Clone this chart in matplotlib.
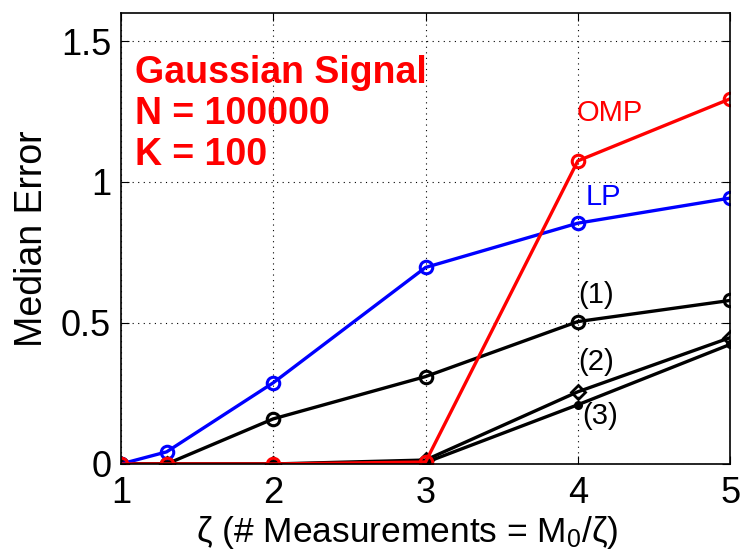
import matplotlib
matplotlib.use("Agg")
import matplotlib.pyplot as plt

plt.rcParams["font.family"] = ["Liberation Sans", "DejaVu Sans"]
plt.rcParams["mathtext.fontset"] = "custom"
plt.rcParams["mathtext.rm"] = "Liberation Sans"
plt.rcParams["mathtext.it"] = "Liberation Sans"

zeta = [1, 1.3, 2, 3, 4, 5]
lp = [0.0, 0.043, 0.288, 0.697, 0.854, 0.943]
omp = [0.0, 0.0, 0.0, 0.007, 1.075, 1.295]
err1 = [0.0, 0.0, 0.16, 0.31, 0.505, 0.58]
err2 = [0.0, 0.0, 0.0, 0.014, 0.256, 0.448]
err3 = [0.0, 0.0, 0.0, 0.005, 0.21, 0.424]

fig = plt.figure(figsize=(7.42, 5.57), dpi=100)
ax = fig.add_axes([0.163, 0.167, 0.821, 0.810])

lw = 2.4
ax.plot(zeta, err3, color="black", lw=lw, marker="o", ms=5, mfc="black", mew=1.5)
ax.plot(zeta, err2, color="black", lw=lw, marker="D", ms=7, mfc="none", mew=2)
ax.plot(zeta, err1, color="black", lw=lw, marker="o", ms=9, mfc="none", mew=2.2)
ax.plot(zeta, lp, color="#0000ff", lw=lw, marker="o", ms=9, mfc="none", mew=2.2)
ax.plot(zeta, omp, color="#ff0000", lw=lw, marker="o", ms=9, mfc="none", mew=2.2)

ax.set_xlim(1, 5)
ax.set_ylim(0, 1.6)
ax.set_xticks([1, 2, 3, 4, 5])
ax.set_yticks([0, 0.5, 1, 1.5])
ax.set_yticklabels(["0", "0.5", "1", "1.5"])
ax.grid(True, linestyle=(0, (1, 4)), color="black", lw=0.8)
ax.tick_params(direction="in", labelsize=26, top=True, right=True, length=6)
ax.tick_params(axis="x", pad=9)
ax.tick_params(axis="y", pad=7)
for s in ax.spines.values():
    s.set_linewidth(1.2)

ax.set_xlabel(r"$\zeta$ (# Measurements = M$_0$/$\zeta$)", fontsize=25.5)
ax.xaxis.set_label_coords(0.47, -0.11)
ax.set_ylabel("Median Error", fontsize=27, labelpad=8)

ax.text(1.09, 1.45, "Gaussian Signal\nN = 100000\nK = 100", color="#ff0000",
        fontsize=27, fontweight="bold", va="top", linespacing=1.17)
ax.text(3.995, 1.245, "OMP", color="#ff0000", fontsize=21, va="center")
ax.text(4.048, 0.948, "LP", color="#0000ff", fontsize=21, va="center")
ax.text(4.0, 0.598, "(1)", color="black", fontsize=21, va="center")
ax.text(4.0, 0.363, "(2)", color="black", fontsize=21, va="center")
ax.text(4.03, 0.17, "(3)", color="black", fontsize=21, va="center")

fig.savefig("out.png", dpi=100)
